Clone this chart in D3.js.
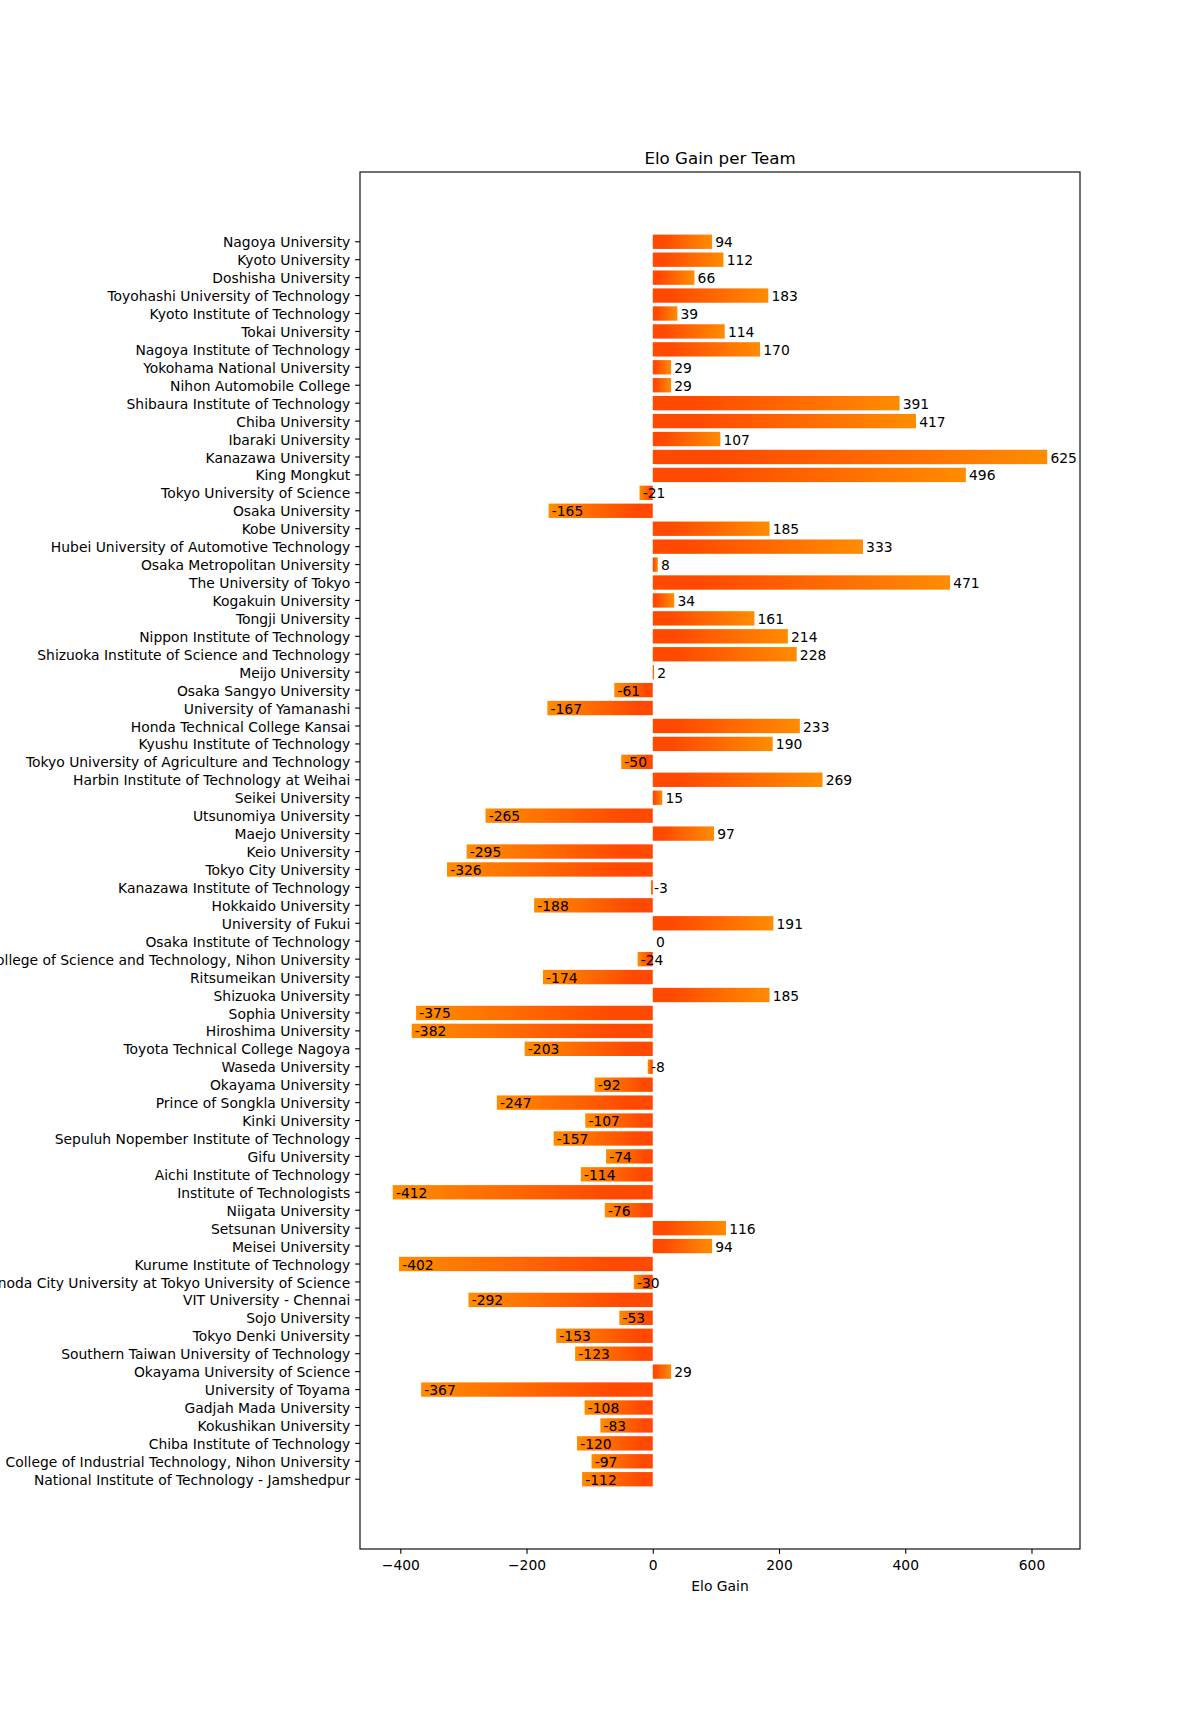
<!DOCTYPE html>
<html>
<head>
<meta charset="utf-8">
<script src="https://cdn.jsdelivr.net/npm/d3@7"></script>
<style>
  html, body { margin: 0; padding: 0; background: #fff; }
  svg { display: block; }
  text { font-family: "DejaVu Sans", sans-serif; fill: #000; }
</style>
</head>
<body>
<svg id="chart" width="1200" height="1722"></svg>
<script>
const teams = [
  "Nagoya University","Kyoto University","Doshisha University","Toyohashi University of Technology",
  "Kyoto Institute of Technology","Tokai University","Nagoya Institute of Technology","Yokohama National University",
  "Nihon Automobile College","Shibaura Institute of Technology","Chiba University","Ibaraki University",
  "Kanazawa University","King Mongkut","Tokyo University of Science","Osaka University","Kobe University",
  "Hubei University of Automotive Technology","Osaka Metropolitan University","The University of Tokyo",
  "Kogakuin University","Tongji University","Nippon Institute of Technology","Shizuoka Institute of Science and Technology",
  "Meijo University","Osaka Sangyo University","University of Yamanashi","Honda Technical College Kansai",
  "Kyushu Institute of Technology","Tokyo University of Agriculture and Technology","Harbin Institute of Technology at Weihai",
  "Seikei University","Utsunomiya University","Maejo University","Keio University","Tokyo City University",
  "Kanazawa Institute of Technology","Hokkaido University","University of Fukui","Osaka Institute of Technology",
  "College of Science and Technology, Nihon University","Ritsumeikan University","Shizuoka University",
  "Sophia University","Hiroshima University","Toyota Technical College Nagoya","Waseda University",
  "Okayama University","Prince of Songkla University","Kinki University","Sepuluh Nopember Institute of Technology",
  "Gifu University","Aichi Institute of Technology","Institute of Technologists","Niigata University",
  "Setsunan University","Meisei University","Kurume Institute of Technology",
  "Sanyo-Onoda City University at Tokyo University of Science","VIT University - Chennai","Sojo University",
  "Tokyo Denki University","Southern Taiwan University of Technology","Okayama University of Science",
  "University of Toyama","Gadjah Mada University","Kokushikan University","Chiba Institute of Technology",
  "College of Industrial Technology, Nihon University","National Institute of Technology - Jamshedpur"
];
const eloGain = [
  94,112,66,183,39,114,170,29,29,391,417,107,625,496,-21,-165,185,333,8,471,34,161,214,228,2,-61,-167,
  233,190,-50,269,15,-265,97,-295,-326,-3,-188,191,0,-24,-174,185,-375,-382,-203,-8,-92,-247,-107,-157,
  -74,-114,-412,-76,116,94,-402,-30,-292,-53,-153,-123,29,-367,-108,-83,-120,-97,-112
];
const xTicks = [-400,-200,0,200,400,600];
const titleText = "Elo Gain per Team";
const xLabelText = "Elo Gain";

const svg = d3.select("#chart");
svg.append("rect").attr("width",1200).attr("height",1722).attr("fill","#fff");

const L = 360, R = 1080, T = 172, B = 1549;
const fs = 13.89;

const minV = d3.min(eloGain), maxV = d3.max(eloGain);
const pad = (maxV - minV) * 0.05;
const x = d3.scaleLinear().domain([minV - pad, maxV + pad]).range([L, R]);
const y = d3.scaleBand().domain(teams).range([T, B]).paddingInner(0.2).paddingOuter(3.49);

const data = teams.map((t, i) => ({team: t, value: eloGain[i], i}));

const defs = svg.append("defs");
data.forEach(d => {
  const g = defs.append("linearGradient")
    .attr("id", "grad" + d.i)
    .attr("gradientUnits", "userSpaceOnUse")
    .attr("x1", x(0)).attr("x2", x(d.value) === x(0) ? x(0) + 1 : x(d.value))
    .attr("y1", 0).attr("y2", 0);
  g.append("stop").attr("offset", "0%").attr("stop-color", "#ff4a00");
  g.append("stop").attr("offset", "15%").attr("stop-color", "#ff4800");
  g.append("stop").attr("offset", "100%").attr("stop-color", "#ff8c00");
});

svg.append("g").selectAll("rect").data(data).join("rect")
  .attr("x", d => Math.min(x(0), x(d.value)))
  .attr("y", d => y(d.team))
  .attr("width", d => Math.abs(x(d.value) - x(0)))
  .attr("height", y.bandwidth())
  .attr("fill", d => `url(#grad${d.i})`);

svg.append("g").selectAll("text").data(data).join("text")
  .attr("x", d => x(d.value + 5))
  .attr("y", d => y(d.team) + y.bandwidth() / 2)
  .attr("dy", "0.4em")
  .attr("font-size", fs)
  .text(d => String(d.value));

// frame
svg.append("rect").attr("x", L).attr("y", T).attr("width", R - L).attr("height", B - T)
  .attr("fill", "none").attr("stroke", "#000").attr("stroke-width", 1.11);

// x axis
const xAxis = svg.append("g").attr("transform", `translate(0,${B})`)
  .call(d3.axisBottom(x).tickValues(xTicks).tickSize(4.86).tickPadding(4.86));
xAxis.select(".domain").remove();
xAxis.selectAll("line").attr("stroke", "#000").attr("stroke-width", 1.11);
xAxis.selectAll("text").attr("font-size", fs).attr("font-family", "DejaVu Sans").attr("dy", null).attr("y", 21);

// y axis
const yAxis = svg.append("g").attr("transform", `translate(${L},0)`)
  .call(d3.axisLeft(y).tickSize(4.86).tickPadding(4.86));
yAxis.select(".domain").remove();
yAxis.selectAll("line").attr("stroke", "#000").attr("stroke-width", 1.11);
yAxis.selectAll("text").attr("font-size", fs).attr("font-family", "DejaVu Sans").attr("dy", "0.4em");

// title & label
svg.append("text").attr("x", (L + R) / 2).attr("y", 163.7).attr("text-anchor", "middle")
  .attr("font-size", 16.67).text(titleText);
svg.append("text").attr("x", (L + R) / 2).attr("y", 1591).attr("text-anchor", "middle")
  .attr("font-size", fs).text(xLabelText);
</script>
</body>
</html>
